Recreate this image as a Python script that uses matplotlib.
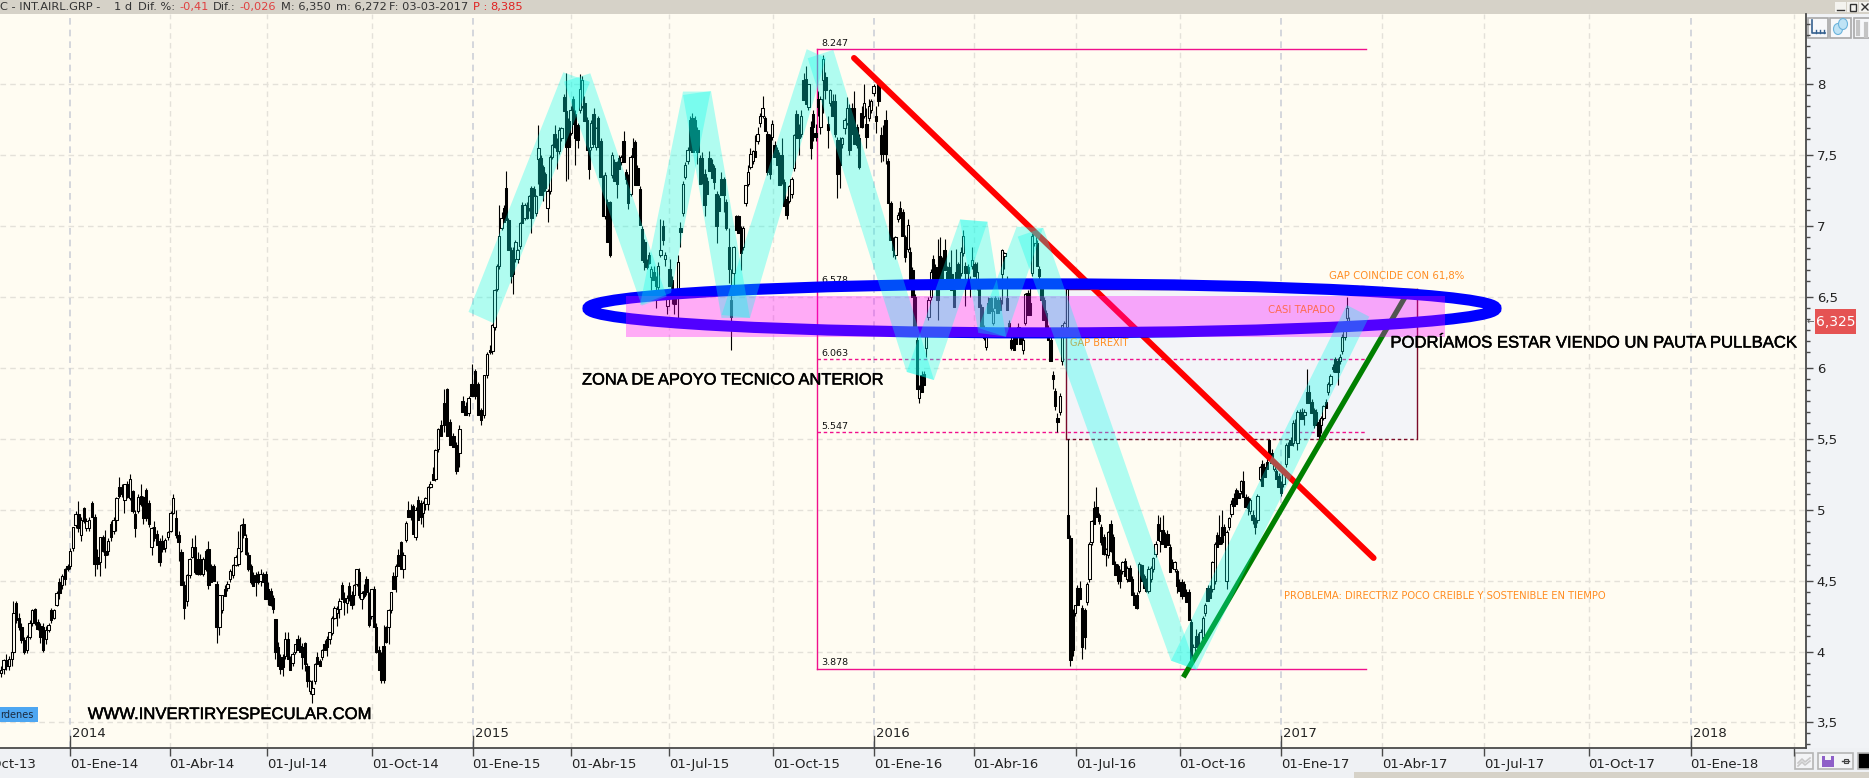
import matplotlib
matplotlib.use("Agg")
import numpy as np
import matplotlib.pyplot as plt
from matplotlib.patches import Rectangle, Ellipse, Polygon
from matplotlib.collections import LineCollection, PolyCollection
import matplotlib.patheffects as pe
from matplotlib.transforms import ScaledTranslation

# ---- tick scale (sessions axis is not linear in calendar time) ----
quarter_labels = ["01-Ene-14","01-Abr-14","01-Jul-14","01-Oct-14","01-Ene-15","01-Abr-15","01-Jul-15",
                  "01-Oct-15","01-Ene-16","01-Abr-16","01-Jul-16","01-Oct-16","01-Ene-17","01-Abr-17",
                  "01-Jul-17","01-Oct-17","01-Ene-18",""]
quarter_pos = [70.4,169.6,267.3,371.7,472.5,571.4,669.4,773.4,874.3,973.5,1076.3,1179.5,1281.3,1382.4,
               1484.3,1588.6,1690.5,1793.5]
year_labels = ["2014","2015","2016","2017","2018"]
year_pos = [70.4,472.5,874.3,1281.3,1690.5]
price_major = [3.5,4,4.5,5,5.5,6,6.5,7,7.5,8]

# ---- candles: (open, high, low, close) ----
c_late13 = [(3.85,3.9,3.82,3.87),(3.88,3.95,3.84,3.94),(3.94,3.98,3.87,3.9),(3.9,3.97,3.87,3.95),(3.95,4.02,3.9,4.0)]
c_2014a = [(4.0,4.36,3.98,4.27),(4.34,4.36,4.2,4.22),(4.24,4.27,4.15,4.17),(4.17,4.2,4.06,4.08),(4.08,4.1,3.98,4.0),
 (4.01,4.12,3.99,4.1),(4.1,4.22,4.09,4.2),(4.2,4.3,4.18,4.29),(4.3,4.31,4.19,4.2),(4.21,4.23,4.15,4.16),
 (4.18,4.2,4.06,4.1),(4.17,4.2,4.0,4.01),(4.09,4.18,4.05,4.15),(4.15,4.2,4.14,4.19),(4.29,4.31,4.2,4.22),
 (4.24,4.3,4.23,4.29),(4.33,4.43,4.32,4.41),(4.49,4.52,4.37,4.41),(4.47,4.55,4.44,4.53),(4.58,4.59,4.47,4.51),
 (4.6,4.62,4.57,4.58),(4.6,4.73,4.58,4.71),(4.73,4.88,4.71,4.88),(4.89,4.99,4.87,4.97),(4.97,5.06,4.84,4.87),
 (4.82,4.95,4.78,4.93),(5.01,5.02,4.91,4.92),(4.87,4.94,4.85,4.92),(4.87,4.95,4.85,4.93),(5.05,5.06,4.95,4.95),
 (4.95,4.97,4.53,4.62),(4.67,4.72,4.58,4.62),(4.63,4.81,4.53,4.81),(4.81,4.82,4.7,4.71),(4.71,4.86,4.59,4.68),
 (4.71,4.8,4.68,4.78),(4.9,4.92,4.78,4.81),(4.85,4.95,4.83,4.93),(4.93,5.09,4.85,5.08),(5.16,5.23,5.08,5.1),
 (5.16,5.18,5.09,5.11),(5.07,5.18,4.98,5.18),(5.18,5.2,5.08,5.09),(5.08,5.25,5.07,5.22),(5.13,5.14,4.98,4.99),
 (4.97,5.0,4.81,4.87),(4.99,5.11,4.98,5.09),(5.1,5.18,5.03,5.04),(5.09,5.1,4.9,4.94),(5.14,5.15,4.92,4.94),
 (5.05,5.07,4.88,4.9),(4.74,4.88,4.68,4.87),(4.88,4.92,4.78,4.8),(4.83,4.86,4.75,4.75),(4.78,4.8,4.6,4.63),
 (4.78,4.82,4.7,4.72),(4.73,4.8,4.7,4.79),(4.81,4.85,4.79,4.84),(4.85,4.99,4.84,4.98),(4.98,5.11,4.97,5.08),
 (4.94,5.0,4.8,4.82),(4.82,4.85,4.64,4.77),(4.7,4.72,4.47,4.47),(4.47,4.5,4.23,4.31),(4.36,4.55,4.32,4.54),
 (4.54,4.66,4.52,4.65),(4.67,4.8,4.66,4.74),(4.74,4.82,4.55,4.56),(4.65,4.7,4.54,4.55),(4.65,4.69,4.54,4.55),
 (4.55,4.67,4.53,4.65),(4.71,4.72,4.57,4.58),(4.72,4.78,4.44,4.47),(4.6,4.62,4.49,4.49),(4.6,4.62,4.5,4.5),
 (4.48,4.5,4.06,4.17),(4.17,4.4,4.12,4.4),(4.29,4.4,4.27,4.4),(4.44,4.47,4.39,4.39),(4.45,4.5,4.43,4.48),
 (4.51,4.58,4.49,4.57),(4.54,4.62,4.52,4.61),(4.61,4.68,4.6,4.67),(4.62,4.85,4.6,4.73)]
c_2014b = [(4.71,4.9,4.7,4.89),(4.9,4.94,4.8,4.82),(4.8,4.83,4.68,4.69),(4.68,4.7,4.57,4.58),(4.6,4.62,4.48,4.49),
 (4.54,4.56,4.46,4.46),(4.54,4.56,4.39,4.49),(4.55,4.57,4.48,4.49),(4.5,4.58,4.46,4.55),(4.54,4.56,4.49,4.49),
 (4.55,4.57,4.37,4.37),(4.44,4.49,4.33,4.37),(4.43,4.45,4.32,4.33),(4.38,4.4,4.27,4.3),(4.23,4.23,3.95,4.0),
 (4.03,4.07,3.9,3.9),(3.96,3.98,3.84,3.88),(3.96,3.98,3.83,3.89),(3.97,4.14,3.95,4.09),(4.09,4.14,3.95,3.95),
 (3.95,3.97,3.87,3.87),(3.92,4.0,3.9,3.98),(4.0,4.05,3.98,4.05),(4.09,4.12,4.01,4.01),(4.04,4.1,4.0,4.0),
 (4.03,4.06,3.88,3.96),(4.06,4.07,3.86,3.91),(3.9,3.92,3.75,3.79),(3.72,3.8,3.7,3.79),(3.7,3.8,3.64,3.74),
 (3.79,3.92,3.77,3.91),(3.96,4.0,3.91,3.91),(3.93,3.95,3.9,3.9),(3.96,4.02,3.94,4.01),(4.05,4.08,4.01,4.01),
 (4.09,4.11,3.97,4.03),(4.09,4.14,4.05,4.14),(4.13,4.25,4.12,4.24),(4.24,4.32,4.23,4.31),(4.27,4.32,4.18,4.3),
 (4.3,4.38,4.24,4.36),(4.47,4.49,4.37,4.37),(4.38,4.42,4.26,4.35),(4.34,4.4,4.27,4.38),(4.46,4.49,4.36,4.38),
 (4.4,4.43,4.3,4.33),(4.4,4.48,4.33,4.47),(4.48,4.58,4.46,4.58),(4.56,4.59,4.38,4.4),(4.37,4.43,4.3,4.41),
 (4.43,4.48,4.38,4.39),(4.51,4.53,4.4,4.42),(4.41,4.42,4.17,4.19),(4.25,4.44,4.23,4.44),(4.44,4.46,4.17,4.17),
 (4.17,4.2,3.99,4.0),(4.01,4.04,3.87,3.87),(3.92,4.0,3.78,3.8),(4.04,4.19,3.78,3.8),(4.17,4.18,4.06,4.07),
 (4.17,4.3,4.05,4.29),(4.29,4.42,4.27,4.42),(4.53,4.56,4.44,4.44),(4.53,4.62,4.42,4.6),(4.68,4.72,4.6,4.6),
 (4.77,4.78,4.58,4.58),(4.58,4.7,4.52,4.68),(4.79,4.92,4.77,4.91),(5.0,5.06,4.95,4.95),(5.0,5.04,4.93,4.95),
 (5.03,5.04,4.83,4.83),(4.81,5.02,4.79,5.0),(5.07,5.1,4.93,4.93),(5.05,5.07,4.9,4.95),(4.98,5.06,4.88,5.05),
 (5.04,5.09,5.0,5.08),(5.04,5.17,5.0,5.16),(5.16,5.2,5.15,5.18),(5.25,5.3,5.21,5.21),(5.22,5.43,5.2,5.42)]
c_turn15 = [(5.43,5.58,5.41,5.57),(5.6,5.63,5.52,5.52),(5.75,5.85,5.55,5.6),(5.85,5.86,5.52,5.52),(5.62,5.64,5.46,5.46),
 (5.52,5.54,5.44,5.44),(5.46,5.48,5.25,5.27),(5.4,5.6,5.3,5.57),(5.77,5.8,5.69,5.69),(5.73,5.76,5.67,5.67),
 (5.68,5.8,5.66,5.79),(5.89,6.03,5.8,5.8),(5.98,5.99,5.78,5.8),(5.89,5.9,5.67,5.67),(5.7,5.72,5.6,5.63),
 (5.67,5.95,5.65,5.95),(5.95,6.11,5.93,6.1)]
c_2015a = [(6.13,6.16,6.1,6.11),(6.12,6.31,6.1,6.3),(6.29,6.56,6.27,6.55),(6.56,6.73,6.54,6.72),(6.72,7.15,6.7,6.93),
 (6.99,7.1,6.97,7.06),(7.13,7.15,7.03,7.03),(7.27,7.39,7.04,7.04),(7.04,7.06,6.83,6.83),(6.83,6.85,6.6,6.65),
 (6.82,6.85,6.52,6.66),(6.77,6.9,6.75,6.89),(6.77,6.84,6.74,6.83),(6.86,7.03,6.84,7.02),(7.15,7.17,7.02,7.02),
 (7.06,7.16,7.04,7.15),(7.15,7.17,7.05,7.06),(7.13,7.22,7.11,7.21),(7.27,7.28,6.95,7.06),(7.26,7.28,7.21,7.21),
 (7.09,7.22,7.07,7.21),(7.47,7.71,7.3,7.55),(7.48,7.5,7.22,7.22),(7.42,7.43,7.18,7.25),(7.37,7.38,7.25,7.27),
 (7.13,7.26,7.03,7.25),(7.25,7.5,7.23,7.49),(7.49,7.58,7.47,7.57),(7.65,7.71,7.55,7.56),(7.6,7.62,7.4,7.53),
 (7.53,7.7,7.51,7.68),(7.62,7.7,7.6,7.69),(7.91,7.93,7.81,7.81),(7.81,8.08,7.32,7.56),(7.74,7.76,7.33,7.56),
 (7.66,7.85,7.64,7.82),(7.9,7.92,7.72,7.72),(7.79,7.82,7.43,7.62),(7.71,7.73,7.55,7.61),(7.82,8.07,7.8,7.97),
 (7.85,8.06,7.83,8.03),(7.87,7.92,7.74,7.74),(7.75,7.77,7.54,7.54),(7.54,7.56,7.33,7.4),(7.56,7.75,7.54,7.73),
 (7.79,7.83,7.58,7.58),(7.56,7.7,7.54,7.69),(7.76,7.78,7.56,7.56),(7.6,7.62,7.35,7.35),(7.34,7.36,7.07,7.07),
 (7.07,7.38,7.05,7.36),(7.17,7.19,6.89,6.89),(7.17,7.18,6.78,6.8),(7.36,7.52,7.34,7.5),(7.45,7.47,7.32,7.32),
 (7.44,7.46,7.2,7.3),(7.48,7.5,7.4,7.4),(7.45,7.5,7.43,7.49),(7.6,7.67,7.45,7.45),(7.38,7.4,7.3,7.33),
 (7.35,7.37,7.12,7.16),(7.23,7.5,7.21,7.49),(7.55,7.62,7.49,7.49),(7.59,7.61,7.29,7.29),(7.41,7.43,7.29,7.29),
 (7.26,7.28,7.01,7.01),(6.98,7.0,6.76,6.76),(6.89,6.91,6.69,6.75),(6.75,6.77,6.7,6.71),(6.8,6.82,6.73,6.74),
 (6.64,6.72,6.55,6.7),(6.68,6.72,6.62,6.62),(6.62,6.65,6.42,6.58),(6.57,6.75,6.52,6.72),(6.8,7.05,6.78,6.83),
 (7.0,7.04,6.87,6.9),(6.77,6.82,6.72,6.8),(6.44,6.56,6.38,6.53),(6.7,6.77,6.58,6.58),(6.62,6.65,6.45,6.5),
 (6.5,6.52,6.38,6.45)]
c_2015b = [(6.5,6.8,6.35,6.75),(6.99,7.03,6.85,6.96),(7.09,7.32,7.07,7.3),(7.35,7.45,7.33,7.43),(7.46,7.56,7.44,7.54),
 (7.75,7.78,7.54,7.54),(7.76,7.8,7.52,7.52),(7.75,7.78,7.54,7.54),(7.68,7.7,7.44,7.52),(7.48,7.5,7.3,7.3),
 (7.48,7.52,7.3,7.32),(7.37,7.4,7.07,7.15),(7.32,7.35,7.23,7.23),(7.48,7.53,7.39,7.39),(7.44,7.47,7.34,7.34),
 (7.41,7.43,7.26,7.31),(7.23,7.25,6.88,7.0),(7.2,7.22,7.11,7.11),(7.33,7.38,7.22,7.22),(7.33,7.35,7.1,7.22),
 (7.17,7.19,6.97,6.99),(6.85,6.99,6.6,6.7),(6.48,6.7,6.13,6.36),(6.67,6.86,6.55,6.85),(7.07,7.08,6.97,6.97),
 (7.07,7.08,6.95,6.95),(6.99,7.0,6.69,6.81),(6.85,7.0,6.83,6.99),(7.16,7.29,7.14,7.29),(7.3,7.43,7.28,7.38),
 (7.42,7.55,7.4,7.51),(7.46,7.54,7.44,7.53),(7.53,7.64,7.49,7.49),(7.6,7.7,7.58,7.65),(7.73,7.8,7.7,7.78),
 (7.78,7.92,7.76,7.83),(7.76,7.78,7.67,7.67),(7.65,7.67,7.36,7.38),(7.63,7.65,7.33,7.37),(7.63,7.75,7.61,7.72),
 (7.57,7.6,7.49,7.49),(7.54,7.56,7.43,7.43),(7.5,7.52,7.29,7.29),(7.5,7.62,7.3,7.31),(7.31,7.33,7.14,7.14),
 (7.19,7.21,7.05,7.08),(7.18,7.29,7.16,7.28),(7.23,7.35,7.2,7.33),(7.41,7.65,7.39,7.64),(7.79,7.82,7.62,7.62),
 (7.7,7.72,7.5,7.62),(7.65,7.82,7.63,7.78),(8.03,8.08,7.89,7.89),(8.04,8.13,7.86,7.86),(7.84,8.0,7.82,8.0),
 (7.7,7.74,7.47,7.55),(7.79,7.82,7.6,7.7),(7.66,7.72,7.6,7.63),(7.9,7.95,7.78,7.84),(7.7,7.92,7.65,7.9),
 (8.03,8.21,7.8,8.18),(8.05,8.09,7.9,7.96),(7.72,7.78,7.55,7.68),(7.87,7.97,7.85,7.96),(7.88,7.93,7.78,7.78),
 (7.88,7.93,7.63,7.65),(7.61,7.63,7.2,7.37),(7.61,7.63,7.27,7.43),(7.58,7.63,7.55,7.62),(7.69,7.76,7.65,7.75),
 (7.73,7.91,7.71,7.83),(7.83,7.86,7.5,7.54),(7.75,7.87,7.65,7.65),(7.83,7.95,7.58,7.58),(7.7,7.72,7.55,7.57),
 (7.62,7.65,7.4,7.42),(7.8,7.85,7.69,7.7),(7.78,8.0,7.76,7.87),(7.72,7.83,7.55,7.63),(7.76,7.9,7.74,7.85),
 (7.82,7.9,7.8,7.88),(7.94,8.0,7.92,7.99),(7.78,7.85,7.66,7.74),(8.0,8.03,7.85,7.88),(7.64,7.7,7.45,7.51),
 (7.62,7.71,7.46,7.51),(7.75,7.82,7.44,7.51),(7.46,7.48,7.16,7.16),(7.16,7.18,6.9,6.9),(6.9,6.92,6.78,6.83),
 (6.8,6.93,6.77,6.92),(7.05,7.1,7.03,7.08),(7.13,7.18,7.06,7.06),(7.1,7.12,6.93,6.93),(6.92,6.94,6.75,6.78)]
c_2016a = [(6.84,7.05,6.82,7.01),(6.82,6.85,6.62,6.62),(6.69,6.71,6.5,6.5),(6.5,6.52,6.28,6.28),(6.2,6.22,5.85,5.85),
 (5.79,5.88,5.75,5.85),(5.95,5.98,5.83,5.83),(5.96,5.98,5.88,5.88),(6.14,6.26,6.08,6.25),(6.36,6.5,6.34,6.48),
 (6.5,6.7,6.48,6.68),(6.77,6.8,6.58,6.58),(6.71,6.73,6.56,6.56),(6.7,6.91,6.34,6.48),(6.79,6.92,6.59,6.59),
 (6.76,6.78,6.62,6.62),(6.83,6.91,6.69,6.69),(6.68,6.72,6.57,6.57),(6.71,6.75,6.59,6.59),(6.66,6.83,6.55,6.55),
 (6.55,6.57,6.43,6.43),(6.68,6.84,6.57,6.57),(6.73,6.75,6.58,6.58),(6.67,6.85,6.65,6.82),(6.81,6.97,6.79,6.93),
 (6.72,6.75,6.44,6.67),(6.71,6.73,6.62,6.67),(6.63,6.65,6.5,6.57),(6.72,6.85,6.7,6.76),(6.73,6.75,6.65,6.65),
 (6.57,6.75,6.55,6.68),(6.57,6.59,6.43,6.43),(6.43,6.45,6.28,6.28),(6.28,6.3,6.2,6.21),(6.15,6.29,6.13,6.27),
 (6.46,6.5,6.39,6.39),(6.49,6.5,6.4,6.4),(6.32,6.42,6.3,6.4),(6.49,6.51,6.42,6.42),(6.48,6.5,6.39,6.39),
 (6.48,6.5,6.41,6.41),(6.66,6.84,6.45,6.83),(6.79,6.82,6.7,6.81),(6.49,6.65,6.41,6.41),(6.32,6.34,6.25,6.25),
 (6.2,6.22,6.13,6.14),(6.21,6.23,6.13,6.13),(6.21,6.26,6.17,6.17),(6.29,6.32,6.22,6.22),(6.21,6.25,6.17,6.17),
 (6.13,6.22,6.1,6.2),(6.32,6.53,6.3,6.52),(6.53,6.55,6.37,6.37),(6.46,6.6,6.37,6.37),(6.67,6.95,6.65,6.93),
 (6.88,6.96,6.86,6.95),(6.88,6.9,6.72,6.72),(6.7,6.72,6.63,6.65),(6.58,6.6,6.48,6.48),(6.48,6.5,6.34,6.34),
 (6.39,6.41,6.28,6.28),(6.28,6.3,6.2,6.2),(6.2,6.22,6.05,6.05),(5.95,5.98,5.85,5.92),(5.84,5.86,5.7,5.73),
 (5.65,5.68,5.55,5.62),(5.69,5.82,5.67,5.8),(6.05,6.3,6.02,6.3),(6.28,6.33,6.26,6.32),(6.29,6.56,6.27,6.56)]
c_2016b = [(4.96,5.5,4.8,4.8),(4.8,4.82,3.9,3.94),(4.27,4.3,3.97,4.01),(4.27,4.33,4.25,4.33),(4.45,4.47,4.33,4.33),
 (4.45,4.5,4.37,4.37),(4.31,4.33,3.95,4.03),(4.29,4.31,4.02,4.1),(4.35,4.49,4.33,4.48),(4.51,4.77,4.49,4.76),
 (4.77,4.93,4.75,4.92),(5.01,5.06,4.9,4.9),(5.02,5.16,4.95,4.95),(4.96,4.98,4.9,4.92),(4.88,4.9,4.75,4.77),
 (4.81,4.83,4.68,4.69),(4.69,4.73,4.6,4.72),(4.68,4.85,4.66,4.84),(4.9,4.93,4.7,4.71),(4.81,4.83,4.62,4.62),
 (4.62,4.64,4.54,4.54),(4.6,4.62,4.48,4.5),(4.56,4.58,4.45,4.5),(4.57,4.64,4.55,4.63),(4.64,4.66,4.53,4.53),
 (4.51,4.6,4.49,4.59),(4.59,4.61,4.5,4.5),(4.51,4.53,4.4,4.4),(4.4,4.42,4.33,4.33),(4.4,4.42,4.3,4.31),
 (4.43,4.63,4.41,4.62),(4.61,4.62,4.5,4.5),(4.53,4.55,4.45,4.45),(4.5,4.52,4.42,4.43),(4.43,4.6,4.41,4.58),
 (4.51,4.6,4.49,4.59),(4.58,4.67,4.56,4.66),(4.69,4.78,4.67,4.76),(4.9,4.96,4.79,4.79),(4.78,4.95,4.7,4.85),
 (4.86,4.96,4.76,4.76),(4.82,4.84,4.74,4.74),(4.83,4.86,4.75,4.75),(4.74,4.76,4.56,4.56),(4.63,4.65,4.59,4.59),
 (4.58,4.64,4.56,4.63),(4.57,4.58,4.41,4.46),(4.49,4.51,4.43,4.43),(4.49,4.51,4.37,4.39),(4.48,4.5,4.39,4.39),
 (4.42,4.44,4.35,4.35),(4.42,4.44,4.22,4.22),(4.21,4.23,3.9,3.95),(3.95,4.05,3.93,4.03),(4.11,4.16,4.03,4.03),
 (4.11,4.13,4.04,4.04),(4.05,4.16,4.03,4.14),(4.1,4.25,4.08,4.24),(4.27,4.34,4.25,4.33),(4.45,4.47,4.36,4.36),
 (4.44,4.47,4.38,4.38),(4.44,4.64,4.42,4.63),(4.5,4.77,4.48,4.76),(4.82,4.84,4.74,4.74),(4.81,4.96,4.76,4.76),
 (4.88,5.0,4.76,4.77),(4.88,4.9,4.82,4.82),(4.5,4.86,4.44,4.84),(4.88,4.95,4.86,4.94),(4.97,5.07,4.95,5.04),
 (5.08,5.12,5.03,5.03),(5.14,5.15,5.04,5.04),(5.12,5.14,5.08,5.08),(5.13,5.21,5.11,5.2),(5.2,5.27,5.09,5.09),
 (5.09,5.11,5.02,5.02),(5.08,5.1,4.96,5.01),(4.99,5.08,4.97,5.07),(4.96,5.0,4.9,4.93),(4.93,4.95,4.83,4.88),
 (4.93,5.11,4.91,5.1),(5.22,5.31,5.2,5.3),(5.32,5.35,5.17,5.17),(5.3,5.33,5.23,5.23),(5.34,5.38,5.29,5.29),
 (5.49,5.5,5.4,5.4),(5.4,5.43,5.33,5.33),(5.29,5.35,5.27,5.34),(5.27,5.29,5.22,5.22),(5.24,5.26,5.16,5.16),
 (5.18,5.2,5.1,5.12),(5.18,5.26,5.16,5.25),(5.32,5.47,5.3,5.46),(5.46,5.48,5.37,5.37),(5.49,5.51,5.46,5.46)]
c_2017 = [(5.47,5.63,5.45,5.61),(5.61,5.64,5.49,5.49),(5.47,5.7,5.42,5.69),(5.69,5.71,5.64,5.64),(5.69,5.72,5.64,5.64),
 (5.67,5.71,5.6,5.69),(5.83,5.99,5.75,5.75),(5.83,5.88,5.75,5.75),(5.76,5.78,5.68,5.68),(5.7,5.72,5.58,5.6),
 (5.69,5.71,5.6,5.6),(5.62,5.64,5.5,5.52),(5.6,5.66,5.54,5.65),(5.65,5.74,5.63,5.73),(5.76,5.78,5.72,5.72),
 (5.83,5.9,5.81,5.89),(5.89,5.96,5.87,5.94),(6.01,6.03,5.97,5.99),(6.06,6.08,5.97,5.97),(6.05,6.07,5.88,5.97),
 (6.05,6.1,6.03,6.08),(6.12,6.24,6.1,6.22),(6.22,6.3,6.2,6.29),(6.35,6.5,6.33,6.42),(6.3,6.36,6.27,6.325)]
candle_runs = [(c_late13,1,11.7),(c_2014a,13.3,238.3),(c_2014b,241,435.3),(c_turn15,438,487),(c_2015a,490,674.3),
               (c_2015b,678,905),(c_2016a,907.7,1066.7),(c_2016b,1068,1290.5),(c_2017,1292.7,1349.3)]

# ---- drawings ----
band_x = [[468.5,494,590,563.3],[564,590.3,666.7,641.7],[640,671,710.5,683],[683,711,750,721.5],
          [721.7,750,826,806.7],[807.7,833.3,934,906.7],[906.7,934,987.5,960],[960,987.5,1006,978.3],
          [978.3,1006,1043,1016.7],[1017.7,1043.3,1196.7,1171],[1171,1196.7,1369.3,1346.7]]
band_p = [[6.395,6.314,8.017,8.085],[8.019,8.078,6.503,6.439],[6.444,6.529,7.949,7.949],[7.925,7.953,6.353,6.353],
          [6.374,6.353,8.186,8.248],[8.184,8.243,5.915,5.972],[5.972,5.915,7.03,7.047],[7.047,7.032,6.221,6.247],
          [6.282,6.219,6.987,6.996],[6.926,6.989,3.87,3.936],[3.936,3.87,6.362,6.444]]
red_x = [854,1373.6]; red_p = [8.186,4.66]
green_x = [1183.3,1405.7]; green_p = [3.819,6.508]
fib_levels = [8.247,6.578,6.063,5.547,3.878]
fib_x = [817.3,1366]
zone_x = [625.7,1444.6]; zone_p = [6.216,6.508]
gap_x = [1065.6,1416.5]; gap_p = [5.50,6.56]
ellipse_c = (1042,6.42); ellipse_w = 908; ellipse_h = 0.3456
last_close = 6.325

FONT_B = "Liberation Sans"
BG = "#FFFCF2"; PANEL = "#F1F3F6"

fig = plt.figure(figsize=(18.69,7.78), dpi=100, facecolor=PANEL)
W,H = 1869,778
chrome = fig.add_axes([0,0,1,1], zorder=0); chrome.set_xlim(0,W); chrome.set_ylim(H,0); chrome.axis("off")
ax = fig.add_axes([0,(H-748)/H,1805.6/W,(748-14)/H], zorder=1, facecolor=BG)
ax.set_xlim(0,1805.6); ax.set_ylim(3.320,8.496)
for s in ["top","left"]: ax.spines[s].set_visible(False)
for s in ["right","bottom"]:
    ax.spines[s].set_color("#4A4A4A"); ax.spines[s].set_linewidth(1.3)

# axes ticks
ax.yaxis.tick_right()
ax.set_yticks(price_major)
ax.set_yticklabels([f"{p:g}".replace(".",",") for p in price_major], fontsize=9.5, color="#222222", family="DejaVu Sans")
minor = [m-k*0.0775 for m in price_major+[8.5] for k in range(1,6)]
minor += [3.5-0.0775,3.5-0.155]
ax.set_yticks(sorted(set(round(v,4) for v in minor if 3.32<v<8.496)), minor=True)
ax.tick_params(axis="y", which="major", length=5, width=1, color="#4A4A4A", pad=3)
ax.tick_params(axis="y", which="minor", length=2.7, width=1, color="#4A4A4A")
ax.set_xticks(quarter_pos)
ax.set_xticklabels(quarter_labels, fontsize=9.5, color="#222222", family="DejaVu Sans", ha="left")
off = ScaledTranslation(2/100,0,fig.dpi_scale_trans)
for lab in ax.get_xticklabels(): lab.set_transform(lab.get_transform()+off)
ax.tick_params(axis="x", length=5.8, width=1, color="#4A4A4A", pad=1.5)

# grid
for p in price_major:
    ax.axhline(p, color="#E4E1D9", lw=1, ls=(0,(4,3)), zorder=1)
for x in quarter_pos:
    year = x in year_pos
    ax.axvline(x, color="#CDD0D8" if year else "#E4E1D9", lw=1.2 if year else 1, ls=(0,(4,3)), zorder=1)
trans_y = ax.get_xaxis_transform()
for x,lab in zip(year_pos,year_labels):
    ax.plot([x,x],[0,12/734],transform=trans_y,color="#4A4A4A",lw=1,clip_on=False,zorder=3)
    ax.text(x+2,5.5/734+0.003,lab,transform=trans_y,fontsize=9.5,family="DejaVu Sans",color="#222222",va="bottom",ha="left")
ax.text(-31,-0.0225,"01-Oct-13",transform=trans_y,fontsize=9.5,family="DejaVu Sans",color="#222222",va="center",ha="left",clip_on=False)

# gap box
ax.add_patch(Rectangle((gap_x[0],gap_p[0]),gap_x[1]-gap_x[0],gap_p[1]-gap_p[0],fc="#F3F4F8",ec="none",zorder=2))
ax.plot([gap_x[0],gap_x[0]],gap_p,color="#7A0A2A",lw=1,zorder=2.1)
ax.plot([gap_x[1],gap_x[1]],gap_p,color="#7A0A2A",lw=1,zorder=2.1)
ax.plot(gap_x,[gap_p[1]]*2,color="#7A0A2A",lw=1,zorder=2.1)
ax.plot(gap_x,[gap_p[0]]*2,color="#7A0A2A",lw=1,ls=(0,(2.5,2)),zorder=2.1)

# fibonacci
MAG = "#F0108C"
ax.plot([fib_x[0]]*2,[fib_levels[0],fib_levels[-1]],color=MAG,lw=1,zorder=2.2)
for lv in fib_levels:
    solid = lv in (fib_levels[0],fib_levels[-1])
    ax.plot(fib_x,[lv,lv],color=MAG,lw=1,ls="-" if solid else (0,(2.5,2)),zorder=2.2)
    ax.text(fib_x[0]+4,lv+0.042,f"{lv:.3f}",fontsize=6.8,family="DejaVu Sans",color="#111111",va="center",ha="left",zorder=2.3)

# candles
wicks=[]; black=[]; white=[]
BW = 1.2
for run,x0,x1 in candle_runs:
    xs = np.linspace(x0,x1,len(run))
    for x,(o,h,l,c) in zip(xs,run):
        wicks.append([(x,l),(x,h)])
        t,b = max(o,c),min(o,c)
        poly=[(x-BW,b),(x+BW,b),(x+BW,t),(x-BW,t)]
        (white if c>=o else black).append(poly)
ax.add_collection(LineCollection(wicks,colors="black",linewidths=0.8,zorder=3))
ax.add_collection(PolyCollection(white,facecolors=BG,edgecolors="black",linewidths=0.75,zorder=3.1))
ax.add_collection(PolyCollection(black,facecolors="black",edgecolors="black",linewidths=0.75,zorder=3.2))

# trend lines
ax.plot(red_x,red_p,color="#FF0000",lw=4.3,solid_capstyle="round",zorder=4)
ax.plot(green_x,green_p,color="#008000",lw=3.8,solid_capstyle="butt",zorder=4.1)

# ellipse, then translucent zone and bands
ax.add_patch(Ellipse(ellipse_c,ellipse_w,ellipse_h,fc="none",ec="#0000FF",lw=8,zorder=4.5))
ax.text(1069.6,6.176,"GAP BREXIT",fontsize=7,family="DejaVu Sans",color="#FF8C20",va="center",zorder=4.6)
ax.add_patch(Rectangle((zone_x[0],zone_p[0]),zone_x[1]-zone_x[0],zone_p[1]-zone_p[0],fc="#FF00FF",alpha=0.32,ec="none",zorder=5))
for bx,bp in zip(band_x,band_p):
    ax.add_patch(Polygon(list(zip(bx,bp)),closed=True,fc="#00FFEC",alpha=0.31,ec="none",zorder=5.1))

# annotations
bold = [pe.withStroke(linewidth=0.35,foreground="black")]
ax.text(582,5.915,"ZONA DE APOYO TECNICO ANTERIOR",fontsize=11.85,family=FONT_B,color="black",va="center",zorder=6,path_effects=bold)
ax.text(87.8,3.556,"WWW.INVERTIRYESPECULAR.COM",fontsize=12,family=FONT_B,color="black",va="center",zorder=6,path_effects=bold)
ax.text(1390.4,6.176,"PODRÍAMOS ESTAR VIENDO UN PAUTA PULLBACK",fontsize=12,family=FONT_B,color="black",va="center",zorder=6,path_effects=bold)
ax.text(1329,6.646,"GAP COINCIDE CON 61,8%",fontsize=7.3,family="DejaVu Sans",color="#FF8C20",va="center",zorder=6)
ax.text(1268,6.411,"CASI TAPADO",fontsize=7.3,family="DejaVu Sans",color="#FF6A50",va="center",zorder=6)
ax.text(1284,4.389,"PROBLEMA: DIRECTRIZ POCO CREIBLE Y SOSTENIBLE EN TIEMPO",fontsize=7.2,family="DejaVu Sans",color="#FF8C20",va="center",zorder=6)

# price tag
chrome.add_patch(Rectangle((1814.8,309),41.2,24.5,fc="#E55353",ec="none"))
ax.text(1835.4,last_close,f"{last_close:.3f}".replace(".",","),fontsize=10,family="DejaVu Sans",color="white",ha="center",va="center",clip_on=False,zorder=7)
ax.text(1810,last_close+0.005,"←",fontsize=6.5,family="DejaVu Sans",color="#555555",ha="center",va="center",clip_on=False,zorder=7)

# chrome: title bar
chrome.add_patch(Rectangle((0,0),W,14,fc="#D6D2C8",ec="none"))
hdr = [(0,"C - INT.AIRL.GRP -","#333333"),(114,"1 d","#333333"),(138,"Dif. %:","#333333"),(179,"-0,41","#E04040"),
       (213,"Dif.:","#333333"),(239,"-0,026","#E04040"),(280.7,"M: 6,350","#333333"),(336,"m: 6,272","#333333"),
       (389,"F: 03-03-2017","#333333"),(473,"P :","#E02020"),(490,"8,385","#E02020")]
for x,t,c in hdr:
    chrome.text(x,7.3,t,fontsize=8.2,family="DejaVu Sans",color=c,va="center",ha="left")
for x0,x1 in [(1835,1846),(1847,1858),(1859,1869)]:
    chrome.add_patch(Rectangle((x0,2),x1-x0,10,fc="#F4F3EF",ec="none"))
chrome.plot([1837,1844],[10,10],color="#333333",lw=1)
chrome.add_patch(Rectangle((1849.5,4),6.5,6.5,fc="none",ec="#333333",lw=1))
chrome.plot([1862,1868],[4,10],color="#333333",lw=1); chrome.plot([1862,1868],[10,4],color="#333333",lw=1)

# chrome: right panel buttons
for x0,x1 in [(1807.5,1828),(1830,1851),(1853.5,1874)]:
    chrome.add_patch(Rectangle((x0,17.5),x1-x0,20,fc="#F7F8FA",ec="#A8A8A8",lw=1.2))
chrome.plot([1812,1812,1825],[20,33,33],color="#35608F",lw=1.2)
for x in (1816,1820,1824): chrome.plot([x,x],[33,30],color="#35608F",lw=1)
for cx,cy in [(1838,29),(1843,24)]:
    chrome.add_patch(Ellipse((cx,cy),9,11,fc="#BFE3F5",ec="#6CB4DC",lw=0.8))
chrome.plot([1858,1858],[22,34],color="#C4C4C4",lw=3)
chrome.plot([1866,1866],[24,36],color="#C4C4C4",lw=3)

# chrome: bottom bar
chrome.add_patch(Rectangle((0,748),W,30,fc="#EFF1F4",ec="none"))
chrome.add_patch(Rectangle((1354,771.5),W-1354,7,fc="#D6D2C8",ec="none"))
chrome.add_patch(Rectangle((1795,753),18,16,fc="#F3F4F6",ec="#B5B5B5",lw=1.2))
chrome.plot([1798,1802,1805,1810],[763,759,762,758],color="#C8C8C8",lw=1.2)
chrome.plot([1798,1802,1805,1810],[766,762,765,761],color="#C8C8C8",lw=1.2)
chrome.add_patch(Rectangle((1817.5,753),35,16,fc="#F3F4F6",ec="#B5B5B5",lw=1.2))
chrome.add_patch(Rectangle((1822,755.5),11.5,11.5,fc="#8E5FC8",ec="none"))
chrome.add_patch(Rectangle((1824.5,756),6.5,3.5,fc="#F3F4F6",ec="none"))
chrome.plot([1842,1849],[761,761],color="#444444",lw=1)
chrome.add_patch(Rectangle((1844,758.5),3.5,4.5,fc="#F3F4F6",ec="#444444",lw=0.8))
chrome.add_patch(Rectangle((1857.5,753),14,16,fc="black",ec="#B5B5B5",lw=1.2))

# 'ordenes' tab (part of chart window)
ax.add_patch(Rectangle((0,3.50),37.6,0.108,fc="#4DA6F2",ec="none",zorder=6))
ax.text(0,3.554,"rdenes",fontsize=7,family="DejaVu Sans",color="#1A2A40",va="center",ha="left",zorder=6.1)

fig.savefig("out.png",dpi=100,facecolor=fig.get_facecolor())
